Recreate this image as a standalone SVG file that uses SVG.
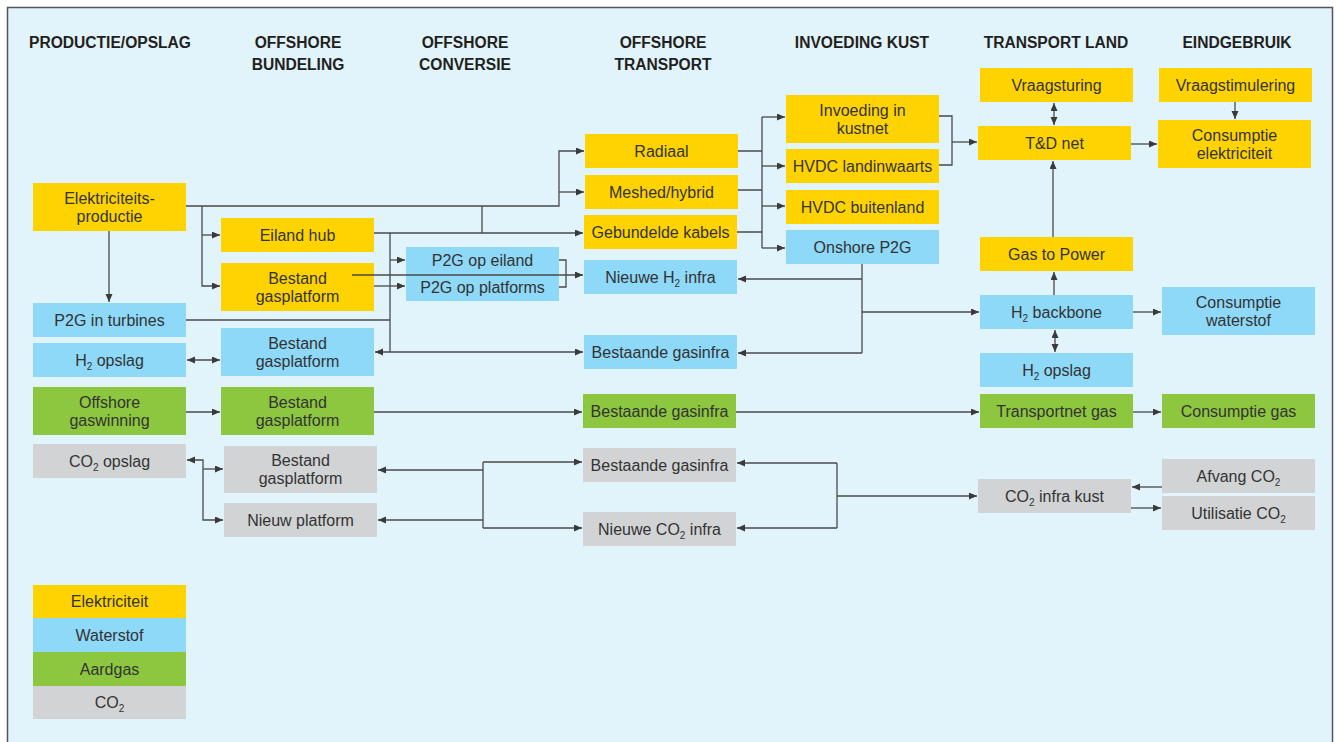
<svg xmlns="http://www.w3.org/2000/svg" width="1342" height="742" viewBox="0 0 1342 742">
<defs>
<marker id="ah" markerUnits="userSpaceOnUse" markerWidth="9" markerHeight="8" refX="8" refY="3.5" orient="auto-start-reverse" viewBox="0 0 9 8">
<path d="M0,0 L8,3.5 L0,7 z" fill="#3a3a3a"/>
</marker>
</defs>
<style>
.hd{font-family:"Liberation Sans",Arial,sans-serif;font-weight:bold;font-size:15.6px;fill:#231f20;text-anchor:middle}
.t{font-family:"Liberation Sans",Arial,sans-serif;font-size:16px;fill:#333;text-anchor:middle}
.y{fill:#FFD300}
.b{fill:#8ED8F8}
.g{fill:#8DC63F}
.k{fill:#D1D3D4}
.c path{fill:none;stroke:#4a4a4a;stroke-width:1.3}
.a{marker-end:url(#ah)}
.d{marker-start:url(#ah);marker-end:url(#ah)}
</style>
<rect x="0" y="0" width="1342" height="742" fill="#ffffff"/>
<rect x="7.5" y="7.5" width="1325" height="740" fill="#E1F3FB" stroke="#555" stroke-width="1.5"/>

<g id="headers">
<text class="hd" x="110" y="48">PRODUCTIE/OPSLAG</text>
<text class="hd" x="298" y="48">OFFSHORE</text>
<text class="hd" x="298" y="70">BUNDELING</text>
<text class="hd" x="465" y="48">OFFSHORE</text>
<text class="hd" x="465" y="70">CONVERSIE</text>
<text class="hd" x="663" y="48">OFFSHORE</text>
<text class="hd" x="663" y="70">TRANSPORT</text>
<text class="hd" x="862" y="48">INVOEDING KUST</text>
<text class="hd" x="1056" y="48">TRANSPORT LAND</text>
<text class="hd" x="1237" y="48">EINDGEBRUIK</text>
</g>

<g id="elektriciteitsproductie"><rect class="y" x="33" y="183" width="153" height="48"/><text class="t" x="109.5" y="203.5">Elektriciteits-</text><text class="t" x="109.5" y="221.5">productie</text></g>
<g id="p2g-turbines"><rect class="b" x="33" y="303" width="153" height="34"/><text class="t" x="109.5" y="325.5">P2G in turbines</text></g>
<g id="h2-opslag-1"><rect class="b" x="33" y="343" width="153" height="34"/><text class="t" x="109.5" y="365.5">H<tspan font-size="10" dy="4">2</tspan><tspan dy="-4"> opslag</tspan></text></g>
<g id="offshore-gaswinning"><rect class="g" x="33" y="387" width="153" height="48"/><text class="t" x="109.5" y="407.5">Offshore</text><text class="t" x="109.5" y="425.5">gaswinning</text></g>
<g id="co2-opslag"><rect class="k" x="33" y="444" width="153" height="34"/><text class="t" x="109.5" y="466.5">CO<tspan font-size="10" dy="4">2</tspan><tspan dy="-4"> opslag</tspan></text></g>

<g id="eiland-hub"><rect class="y" x="221" y="218" width="153" height="34"/><text class="t" x="297.5" y="240.5">Eiland hub</text></g>
<g id="bestand-gasplatform-e"><rect class="y" x="221" y="263" width="153" height="48"/><text class="t" x="297.5" y="283.5">Bestand</text><text class="t" x="297.5" y="301.5">gasplatform</text></g>
<g id="bestand-gasplatform-h"><rect class="b" x="221" y="328" width="153" height="48"/><text class="t" x="297.5" y="348.5">Bestand</text><text class="t" x="297.5" y="366.5">gasplatform</text></g>
<g id="bestand-gasplatform-g"><rect class="g" x="221" y="387" width="153" height="48"/><text class="t" x="297.5" y="407.5">Bestand</text><text class="t" x="297.5" y="425.5">gasplatform</text></g>
<g id="bestand-gasplatform-c"><rect class="k" x="224" y="446" width="153" height="47"/><text class="t" x="300.5" y="466">Bestand</text><text class="t" x="300.5" y="484">gasplatform</text></g>
<g id="nieuw-platform"><rect class="k" x="224" y="503" width="153" height="34"/><text class="t" x="300.5" y="525.5">Nieuw platform</text></g>

<g id="p2g-eiland"><rect class="b" x="406" y="247" width="153" height="27.5"/><text class="t" x="482.5" y="266">P2G op eiland</text></g>
<g id="p2g-platforms"><rect class="b" x="406" y="274" width="153" height="27"/><text class="t" x="482.5" y="293">P2G op platforms</text></g>

<g id="radiaal"><rect class="y" x="585" y="134" width="153" height="34"/><text class="t" x="661.5" y="156.5">Radiaal</text></g>
<g id="meshed-hybrid"><rect class="y" x="585" y="175" width="153" height="34"/><text class="t" x="661.5" y="197.5">Meshed/hybrid</text></g>
<g id="gebundelde-kabels"><rect class="y" x="584" y="215" width="153" height="34"/><text class="t" x="660.5" y="237.5">Gebundelde kabels</text></g>
<g id="nieuwe-h2-infra"><rect class="b" x="584" y="260" width="153" height="34"/><text class="t" x="660.5" y="282.5">Nieuwe H<tspan font-size="10" dy="4">2</tspan><tspan dy="-4"> infra</tspan></text></g>
<g id="bestaande-gasinfra-h"><rect class="b" x="584" y="335" width="153" height="34"/><text class="t" x="660.5" y="357.5">Bestaande gasinfra</text></g>
<g id="bestaande-gasinfra-g"><rect class="g" x="583" y="394" width="153" height="34"/><text class="t" x="659.5" y="416.5">Bestaande gasinfra</text></g>
<g id="bestaande-gasinfra-c"><rect class="k" x="583" y="448" width="153" height="34"/><text class="t" x="659.5" y="470.5">Bestaande gasinfra</text></g>
<g id="nieuwe-co2-infra"><rect class="k" x="583" y="512" width="153" height="34"/><text class="t" x="659.5" y="534.5">Nieuwe CO<tspan font-size="10" dy="4">2</tspan><tspan dy="-4"> infra</tspan></text></g>

<g id="invoeding-kustnet"><rect class="y" x="786" y="95" width="153" height="48"/><text class="t" x="862.5" y="115.5">Invoeding in</text><text class="t" x="862.5" y="133.5">kustnet</text></g>
<g id="hvdc-landinwaarts"><rect class="y" x="786" y="149" width="153" height="34"/><text class="t" x="862.5" y="171.5">HVDC landinwaarts</text></g>
<g id="hvdc-buitenland"><rect class="y" x="786" y="190" width="153" height="34"/><text class="t" x="862.5" y="212.5">HVDC buitenland</text></g>
<g id="onshore-p2g"><rect class="b" x="786" y="230" width="153" height="34"/><text class="t" x="862.5" y="252.5">Onshore P2G</text></g>

<g id="vraagsturing"><rect class="y" x="980" y="68" width="153" height="34"/><text class="t" x="1056.5" y="90.5">Vraagsturing</text></g>
<g id="td-net"><rect class="y" x="978" y="126" width="153" height="34"/><text class="t" x="1054.5" y="148.5">T&amp;D net</text></g>
<g id="gas-to-power"><rect class="y" x="980" y="237" width="153" height="34"/><text class="t" x="1056.5" y="259.5">Gas to Power</text></g>
<g id="h2-backbone"><rect class="b" x="980" y="295" width="153" height="34"/><text class="t" x="1056.5" y="317.5">H<tspan font-size="10" dy="4">2</tspan><tspan dy="-4"> backbone</tspan></text></g>
<g id="h2-opslag-2"><rect class="b" x="980" y="353" width="153" height="34"/><text class="t" x="1056.5" y="375.5">H<tspan font-size="10" dy="4">2</tspan><tspan dy="-4"> opslag</tspan></text></g>
<g id="transportnet-gas"><rect class="g" x="980" y="394" width="153" height="34"/><text class="t" x="1056.5" y="416.5">Transportnet gas</text></g>
<g id="co2-infra-kust"><rect class="k" x="978" y="479" width="153" height="34"/><text class="t" x="1054.5" y="501.5">CO<tspan font-size="10" dy="4">2</tspan><tspan dy="-4"> infra kust</tspan></text></g>

<g id="vraagstimulering"><rect class="y" x="1159" y="68" width="153" height="34"/><text class="t" x="1235.5" y="90.5">Vraagstimulering</text></g>
<g id="consumptie-elektriciteit"><rect class="y" x="1158" y="120" width="153" height="48"/><text class="t" x="1234.5" y="140.5">Consumptie</text><text class="t" x="1234.5" y="158.5">elektriciteit</text></g>
<g id="consumptie-waterstof"><rect class="b" x="1162" y="287" width="153" height="48"/><text class="t" x="1238.5" y="307.5">Consumptie</text><text class="t" x="1238.5" y="325.5">waterstof</text></g>
<g id="consumptie-gas"><rect class="g" x="1162" y="394" width="153" height="34"/><text class="t" x="1238.5" y="416.5">Consumptie gas</text></g>
<g id="afvang-co2"><rect class="k" x="1162" y="459" width="153" height="34"/><text class="t" x="1238.5" y="481.5">Afvang CO<tspan font-size="10" dy="4">2</tspan></text></g>
<g id="utilisatie-co2"><rect class="k" x="1162" y="496" width="153" height="34"/><text class="t" x="1238.5" y="518.5">Utilisatie CO<tspan font-size="10" dy="4">2</tspan></text></g>

<g id="legend">
<rect class="y" x="33" y="585" width="153" height="33.5"/><text class="t" x="109.5" y="607">Elektriciteit</text>
<rect class="b" x="33" y="618" width="153" height="34.5"/><text class="t" x="109.5" y="640.5">Waterstof</text>
<rect class="g" x="33" y="652" width="153" height="34.5"/><text class="t" x="109.5" y="674.5">Aardgas</text>
<rect class="k" x="33" y="686" width="153" height="33"/><text class="t" x="109.5" y="708">CO<tspan font-size="10" dy="4">2</tspan></text>
</g>

<g class="c" id="connectors">
<path class="a" d="M109,231 V302"/>
<path class="a" d="M186,206 H559 V151 H584"/>
<path class="a" d="M559,192 H584"/>
<path d="M482,206 V233"/>
<path class="a" d="M202,206 V286 H220"/>
<path class="a" d="M202,235 H220"/>
<path class="a" d="M374,233 H583"/>
<path d="M390,233 V352"/>
<path class="a" d="M390,260 H405"/>
<path d="M186,320 H390"/>
<path class="d" d="M375,352 H583"/>
<path class="a" d="M374,286 H405"/>
<path class="a" d="M352,275 H583"/>
<path d="M559,260 H566 V287 H559"/>
<path d="M738,151 H762 M738,190 H762 M737,232 H762 M762,117 V248"/>
<path class="a" d="M762,117 H785"/>
<path class="a" d="M762,166 H785"/>
<path class="a" d="M762,206 H785"/>
<path class="a" d="M762,248 H785"/>
<path d="M939,116 H952 V165 H939"/>
<path class="a" d="M952,142 H977"/>
<path class="d" d="M1054,103 V125"/>
<path class="a" d="M1235,102 V119"/>
<path class="a" d="M1131,144 H1157"/>
<path class="a" d="M1053,237 V161"/>
<path class="a" d="M1054,295 V272"/>
<path class="d" d="M1055,330 V352"/>
<path class="a" d="M1133,312 H1161"/>
<path d="M862,264 V353"/>
<path class="a" d="M862,279 H738"/>
<path class="a" d="M862,312 H979"/>
<path class="a" d="M862,353 H738"/>
<path class="d" d="M187,360 H220"/>
<path class="a" d="M186,412 H220"/>
<path class="a" d="M374,412 H582"/>
<path class="a" d="M736,412 H979"/>
<path class="a" d="M1133,412 H1161"/>
<path class="d" d="M187,460 H203 V520 H223"/>
<path class="a" d="M203,469 H223"/>
<path d="M483,462 V528"/>
<path class="a" d="M483,470 H378"/>
<path class="a" d="M483,520 H378"/>
<path class="a" d="M483,462 H582"/>
<path class="a" d="M483,528 H582"/>
<path d="M837,463 V528"/>
<path class="a" d="M837,463 H737"/>
<path class="a" d="M837,528 H737"/>
<path class="a" d="M837,496 H977"/>
<path class="a" d="M1162,487 H1132"/>
<path class="a" d="M1131,508 H1161"/>
</g>
</svg>
